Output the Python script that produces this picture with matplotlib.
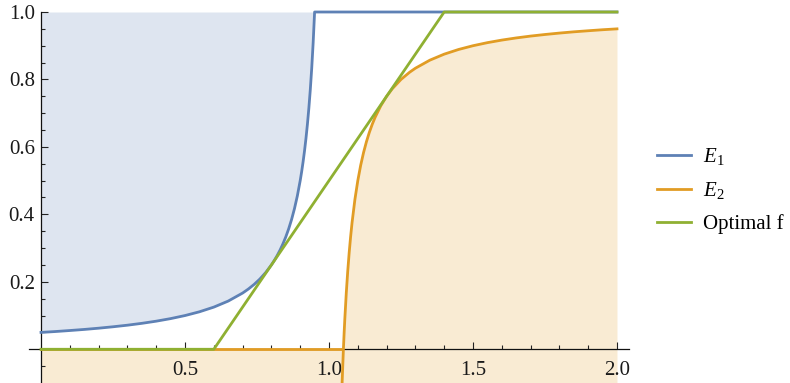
import matplotlib
matplotlib.use("Agg")
import matplotlib.pyplot as plt
import numpy as np
from matplotlib.ticker import FixedLocator

plt.rcParams['font.family'] = ['Liberation Serif', 'DejaVu Serif']
plt.rcParams['mathtext.fontset'] = 'custom'
plt.rcParams['mathtext.rm'] = 'Liberation Serif'
plt.rcParams['mathtext.it'] = 'Liberation Serif:italic'

# ---- data ----
e1_x = [0.00, 0.05, 0.10, 0.15, 0.20, 0.25, 0.30, 0.35, 0.40, 0.45, 0.50,
        0.55, 0.60, 0.65, 0.70, 0.72, 0.74, 0.76, 0.78, 0.80, 0.81, 0.82,
        0.83, 0.84, 0.85, 0.86, 0.87, 0.88, 0.89, 0.90, 0.905, 0.91, 0.915,
        0.92, 0.925, 0.93, 0.935, 0.94, 0.945, 0.95, 2.00]
e1_y = [0.0500, 0.0526, 0.0556, 0.0588, 0.0625, 0.0667, 0.0714, 0.0769,
        0.0833, 0.0909, 0.1000, 0.1111, 0.1250, 0.1429, 0.1667, 0.1786,
        0.1923, 0.2083, 0.2273, 0.2500, 0.2632, 0.2778, 0.2941, 0.3125,
        0.3333, 0.3571, 0.3846, 0.4167, 0.4545, 0.5000, 0.5263, 0.5556,
        0.5882, 0.6250, 0.6667, 0.7143, 0.7692, 0.8333, 0.9091, 1.0000,
        1.0000]

e2_flat_x = [0.0, 1.045]
e2_flat_y = [0.0, 0.0]
e2_x = [1.0455, 1.05, 1.0525, 1.055, 1.06, 1.065, 1.07, 1.075, 1.08, 1.09,
        1.10, 1.11, 1.12, 1.13, 1.14, 1.15, 1.16, 1.18, 1.20, 1.22, 1.25,
        1.28, 1.30, 1.35, 1.40, 1.45, 1.50, 1.55, 1.60, 1.65, 1.70, 1.75,
        1.80, 1.85, 1.90, 1.95, 2.00]
e2_y = [-0.1, 0.0, 0.0476, 0.0909, 0.1667, 0.2308, 0.2857, 0.3333, 0.375,
        0.4444, 0.5, 0.5455, 0.5833, 0.6154, 0.6429, 0.6667, 0.6875, 0.7222,
        0.75, 0.7727, 0.8, 0.8214, 0.8333, 0.8571, 0.875, 0.8889, 0.9,
        0.9091, 0.9167, 0.9231, 0.9286, 0.9333, 0.9375, 0.9412, 0.9444,
        0.9474, 0.95]

opt_x = [0.0, 0.6, 1.4, 2.0]
opt_y = [0.0, 0.0, 1.0, 1.0]

x_ticks = [0.5, 1.0, 1.5, 2.0]
x_labels = ['0.5', '1.0', '1.5', '2.0']
y_ticks = [0.2, 0.4, 0.6, 0.8, 1.0]
y_labels = ['0.2', '0.4', '0.6', '0.8', '1.0']
legend_labels = [r'$E_1$', r'$E_2$', 'Optimal f']

# ---- style ----
c_blue = '#5E81B5'
c_orange = '#E19C24'
c_green = '#8FB032'
y_bottom, y_top = -0.1, 1.0

fig = plt.figure(figsize=(7.9, 3.83), dpi=100)
ax = fig.add_axes([29.5 / 790, 0.0, 599 / 790, 371 / 383])
ax.set_xlim(-0.04, 2.04)
ax.set_ylim(y_bottom, y_top)

# fills
ax.fill_between(e1_x[:-1], e1_y[:-1], y_top, color=c_blue, alpha=0.2, lw=0)
fx = e2_flat_x + e2_x
fy = e2_flat_y + e2_y
ax.fill_between(fx, fy, y_bottom, color=c_orange, alpha=0.2, lw=0)

lw = 2.0
l1, = ax.plot(e1_x, e1_y, color=c_blue, lw=lw, clip_on=False, zorder=3,
              solid_joinstyle='round')
l2, = ax.plot(e2_flat_x, e2_flat_y, color=c_orange, lw=lw, zorder=3)
ax.plot(e2_x, e2_y, color=c_orange, lw=lw, zorder=3, solid_joinstyle='round')
l3, = ax.plot(opt_x, opt_y, color=c_green, lw=lw, clip_on=False, zorder=4)

# axes through origin
for s in ['top', 'right']:
    ax.spines[s].set_visible(False)
ax.spines['left'].set_position(('data', 0))
ax.spines['bottom'].set_position(('data', 0))
for s in ['left', 'bottom']:
    ax.spines[s].set_linewidth(0.9)
    ax.spines[s].set_color('#111111')
ax.patch.set_alpha(0)

ax.set_xticks(x_ticks)
ax.set_xticklabels(x_labels)
ax.set_yticks(y_ticks)
ax.set_yticklabels(y_labels)
xminor = [round(0.1 * i, 1) for i in range(1, 21) if (i % 5) != 0]
yminor = [round(0.05 * i, 2) for i in range(-1, 21) if i % 4 != 0]
ax.xaxis.set_minor_locator(FixedLocator(xminor))
ax.yaxis.set_minor_locator(FixedLocator(yminor))
ax.tick_params(axis='both', which='major', direction='in', length=5,
               width=0.8, color='#222222', labelsize=15, labelcolor='#1a1a1a')
ax.tick_params(axis='both', which='minor', direction='in', length=2.8,
               width=0.8, color='#222222')
ax.tick_params(axis='x', which='major', pad=8.5)
ax.tick_params(axis='y', which='major', pad=4.5)

fig.legend([l1, l2, l3], legend_labels, loc='center left',
           bbox_to_anchor=(657 / 790, 1 - 190 / 383), frameon=False,
           fontsize=15, handlelength=1.65, handletextpad=0.55,
           labelspacing=0.62, borderpad=0, borderaxespad=0)

fig.savefig('out.png', dpi=100)
